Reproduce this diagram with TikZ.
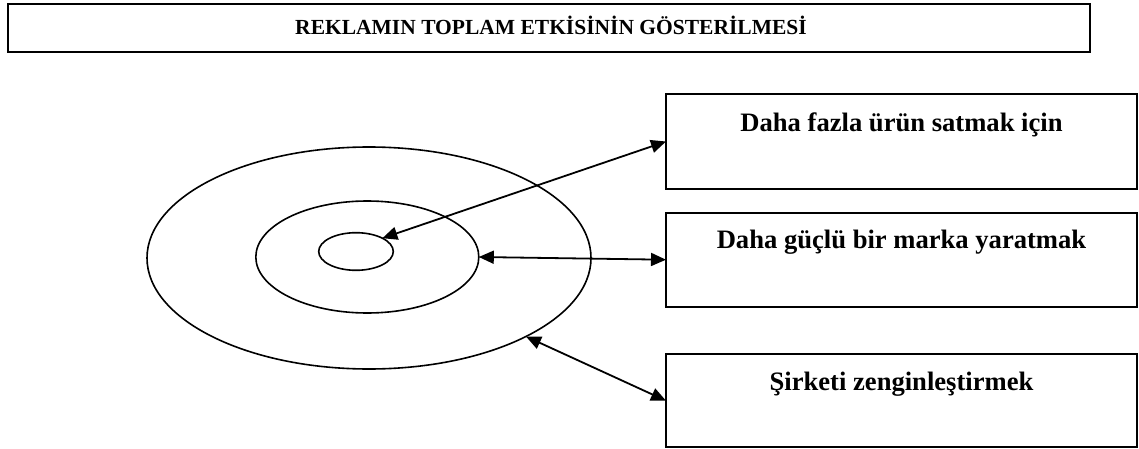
\documentclass[tikz,border=0pt]{standalone}
\usepackage{fontspec}
\setmainfont{Liberation Serif}
\usetikzlibrary{arrows.meta,shapes.geometric,calc}
\begin{document}
\begin{tikzpicture}[x=1pt,y=-1pt,
  frame/.style={draw, line width=2pt, rectangle, inner sep=0pt, outer sep=0pt},
  ring/.style={draw, ellipse, line width=1.6pt, inner sep=0pt, outer sep=0pt},
  lbl/.style={anchor=base, font=\bfseries\fontsize{26.6}{30}\selectfont, inner sep=0pt},
  ttl/.style={anchor=base, font=\bfseries\fontsize{21.5}{24}\selectfont, inner sep=0pt},
  link/.style={line width=1.8pt, {Triangle[length=15pt,width=13pt]}-{Triangle[length=15pt,width=13pt]}}]
\useasboundingbox (0,0) rectangle (1139,449);
% title
\node[frame, minimum width=1082pt, minimum height=47.4pt] (title) at (549,28) {};
\node[ttl] (titletext) at (551,35) {REKLAMIN TOPLAM ETKİSİNİN GÖSTERİLMESİ};
% ellipses
\node[ring, minimum width=444pt, minimum height=222pt] (outer) at (369,258) {};
\node[ring, minimum width=223pt, minimum height=112pt] (middle) at (367.3,257) {};
\node[ring, minimum width=74.6pt, minimum height=37.6pt] (inner) at (356,251.5) {};
% boxes
\node[frame, minimum width=471pt, minimum height=94.4pt] (b1) at (901.5,141.5) {};
\node[frame, minimum width=471pt, minimum height=94pt] (b2) at (901.5,259.7) {};
\node[frame, minimum width=471pt, minimum height=93.3pt] (b3) at (901.5,400.7) {};
\node[lbl] (t1) at ($(b1.north)+(0,37)$) {Daha fazla ürün satmak için};
\node[lbl] (t2) at ($(b2.north)+(0,36)$) {Daha güçlü bir marka yaratmak};
\node[lbl] (t3) at ($(b3.north)+(0,36)$) {Şirketi zenginleştirmek};
% arrows
\draw[link] (b1.west) -- (inner.north east);
\draw[link] (middle.east) -- (b2.west);
\draw[link] (outer.south east) -- (b3.west);
\end{tikzpicture}
\end{document}
